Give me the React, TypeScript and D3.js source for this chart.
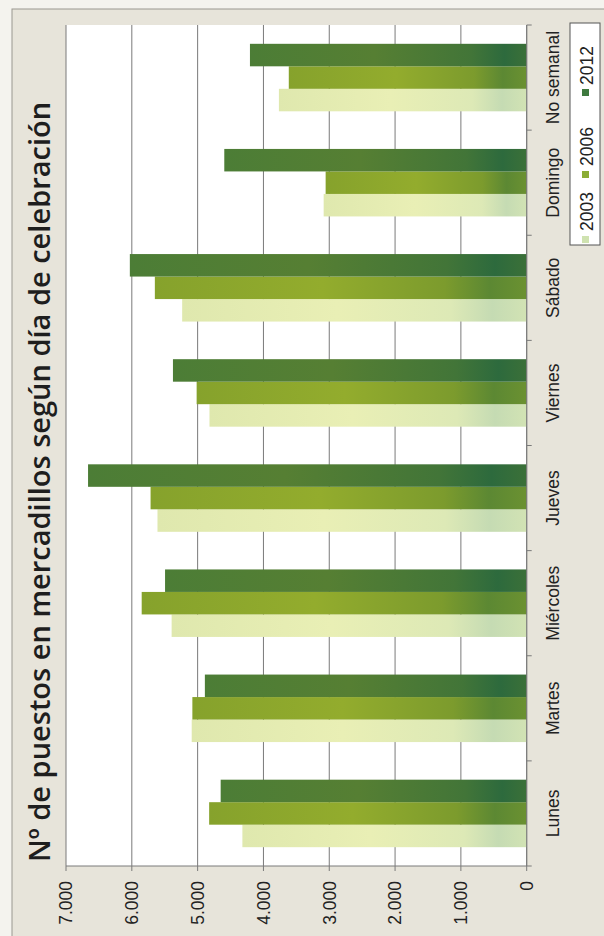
import React from "react";
import * as d3 from "d3";

const categories = ["Lunes", "Martes", "Miércoles", "Jueves", "Viernes", "Sábado", "Domingo", "No semanal"];
const years = ["2003", "2006", "2012"];
const values2003 = [4320, 5090, 5395, 5610, 4820, 5235, 3085, 3765];
const values2006 = [4825, 5080, 5850, 5715, 5015, 5650, 3055, 3615];
const values2012 = [4650, 4890, 5495, 6665, 5375, 6030, 4595, 4205];
const valueTicks = [0, 1000, 2000, 3000, 4000, 5000, 6000, 7000];
const title = "Nº de puestos en mercadillos según día de celebración";

const seriesValues = [values2003, values2006, values2012];
const gradStops: [number, string][][] = [
  [[0, "#dfe8ae"], [0.45, "#e9efb5"], [0.78, "#dde9b6"], [0.9, "#c5dbb3"], [1, "#d2e3b4"]],
  [[0, "#86a22c"], [0.45, "#93ac2d"], [0.78, "#7c9b2d"], [0.9, "#5c8833"], [1, "#6b9131"]],
  [[0, "#4c7d36"], [0.45, "#567f33"], [0.8, "#427538"], [0.92, "#2d6a3d"], [1, "#3b7038"]],
];
const legendColors = ["#cfe2b0", "#8bad35", "#3e7a3f"];

const W = 604;
const H = 936;
const plotLeft = 66;
const plotRight = 526.7;
const plotTop = 25;
const plotBottom = 866;

const fmt = d3.formatLocale({ decimal: ",", thousands: ".", grouping: [3], currency: ["", ""] }).format(",");

export default function App() {
  const x = d3.scaleLinear().domain([0, 7000]).range([plotRight, plotLeft]);
  const y = d3.scaleBand<string>().domain(categories).range([plotBottom, plotTop]).padding(0);
  const inner = d3
    .scaleBand<string>()
    .domain(years)
    .range([y.bandwidth(), 0])
    .paddingInner(0)
    .paddingOuter(0.836);

  const font = "'Liberation Sans', Arial, sans-serif";
  const legendMarkerY = [236, 171, 89];
  const legendTextY = [231, 166, 85];

  return (
    <svg width={W} height={H} style={{ position: "absolute", left: 0, top: 0 }}>
      <defs>
        {gradStops.map((stops, i) => (
          <linearGradient key={i} id={`g${i}`} x1="0" y1="0" x2="1" y2="0">
            {stops.map(([o, c], j) => (
              <stop key={j} offset={o} stopColor={c} />
            ))}
          </linearGradient>
        ))}
      </defs>
      <rect x={0} y={0} width={W} height={H} fill="#f4f3ee" />
      <rect x={12} y={9} width={W} height={H} fill="#e7e4da" stroke="#9a9890" strokeWidth={1} />

      {/* title */}
      <text
        transform={`translate(50,862) rotate(-90)`}
        fontFamily="'Open Sans', sans-serif"
        fontWeight={600}
        fontSize={29}
        fill="#1e1e1e"
      >
        {title}
      </text>

      {/* plot area */}
      <rect x={plotLeft} y={plotTop} width={plotRight - plotLeft} height={plotBottom - plotTop} fill="#ffffff" />
      {valueTicks.map((t) => (
        <line key={t} x1={x(t)} x2={x(t)} y1={plotTop} y2={plotBottom} stroke="#7a7a7a" strokeWidth={1} />
      ))}

      {/* bars */}
      {categories.map((c, ci) => (
        <g key={c}>
          {years.map((yr, si) => {
            const v = seriesValues[si][ci];
            const y0 = (y(c) as number) + (inner(yr) as number);
            return (
              <rect
                key={yr}
                x={x(v)}
                y={y0}
                width={x(0) - x(v)}
                height={inner.bandwidth()}
                fill={`url(#g${si})`}
              />
            );
          })}
        </g>
      ))}

      {/* axes */}
      <line x1={plotLeft} x2={plotRight} y1={plotBottom} y2={plotBottom} stroke="#7a7a7a" strokeWidth={1} />
      <line x1={plotRight} x2={plotRight} y1={plotTop} y2={plotBottom} stroke="#7a7a7a" strokeWidth={1} />
      {valueTicks.map((t) => (
        <line key={t} x1={x(t)} x2={x(t)} y1={plotBottom} y2={plotBottom + 5} stroke="#7a7a7a" strokeWidth={1} />
      ))}
      {[...categories.map((c) => y(c) as number), plotBottom].map((p, i) => (
        <line key={i} x1={plotRight} x2={plotRight + 5} y1={p} y2={p} stroke="#7a7a7a" strokeWidth={1} />
      ))}

      {/* value tick labels */}
      {valueTicks.map((t) => (
        <text
          key={t}
          transform={`translate(${x(t) + 6.3},881) rotate(-90)`}
          textAnchor="end"
          fontFamily={font}
          fontSize={17.5}
          fill="#222"
        >
          {fmt(t)}
        </text>
      ))}

      {/* category labels */}
      {categories.map((c) => (
        <text
          key={c}
          transform={`translate(558.5,${(y(c) as number) + y.bandwidth() / 2}) rotate(-90)`}
          textAnchor="middle"
          fontFamily={font}
          fontSize={17.5}
          fill="#222"
        >
          {c}
        </text>
      ))}

      {/* legend */}
      <rect x={570} y={23} width={30} height={222} fill="#ffffff" stroke="#555" strokeWidth={1} />
      {years.map((yr, i) => (
        <g key={yr}>
          <rect x={582} y={legendMarkerY[i]} width={7} height={7} fill={legendColors[i]} />
          <text
            transform={`translate(593,${legendTextY[i]}) rotate(-90)`}
            fontFamily={font}
            fontSize={17.5}
            fill="#222"
          >
            {yr}
          </text>
        </g>
      ))}
    </svg>
  );
}
